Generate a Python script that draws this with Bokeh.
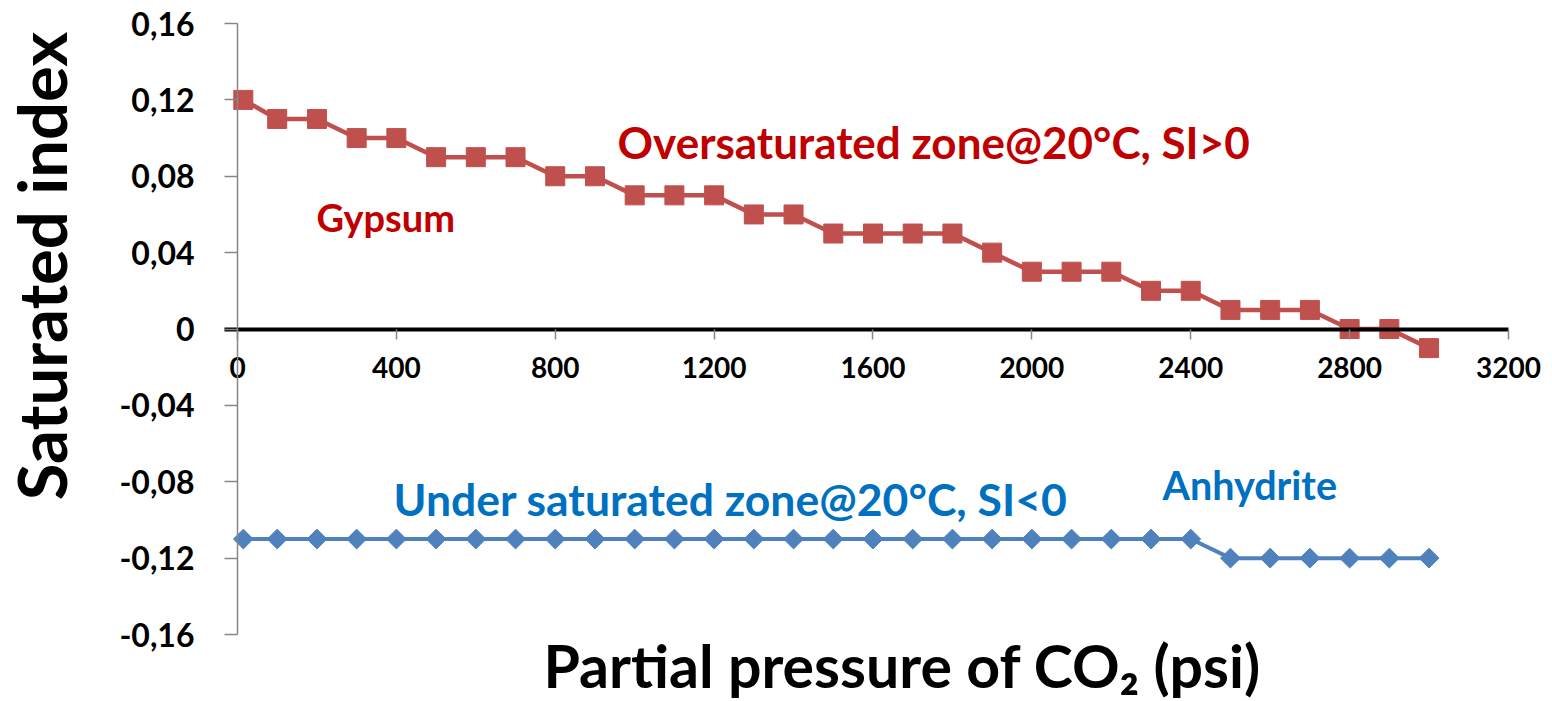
import numpy as np
from bokeh.plotting import figure
from bokeh.models import (ColumnDataSource, FixedTicker, CustomJSTickFormatter, Label, Range1d)
from bokeh.embed import file_html
from bokeh.resources import INLINE

# Partial pressure of CO2 (psi)
pressure = [14.7, 100, 200, 300, 400, 500, 600, 700, 800, 900, 1000, 1100, 1200,
            1300, 1400, 1500, 1600, 1700, 1800, 1900, 2000, 2100, 2200, 2300,
            2400, 2500, 2600, 2700, 2800, 2900, 3000]

# Saturation index of gypsum at 20 °C
si_gypsum = [0.12, 0.11, 0.11, 0.10, 0.10, 0.09, 0.09, 0.09, 0.08, 0.08, 0.07,
             0.07, 0.07, 0.06, 0.06, 0.05, 0.05, 0.05, 0.05, 0.04, 0.03, 0.03,
             0.03, 0.02, 0.02, 0.01, 0.01, 0.01, 0.00, 0.00, -0.01]

# Saturation index of anhydrite at 20 °C
si_anhydrite = [-0.11, -0.11, -0.11, -0.11, -0.11, -0.11, -0.11, -0.11, -0.11,
                -0.11, -0.11, -0.11, -0.11, -0.11, -0.11, -0.11, -0.11, -0.11,
                -0.11, -0.11, -0.11, -0.11, -0.11, -0.11, -0.11, -0.12, -0.12,
                -0.12, -0.12, -0.12, -0.12]

x_ticks = [0, 400, 800, 1200, 1600, 2000, 2400, 2800, 3200]
y_ticks = [-0.16, -0.12, -0.08, -0.04, 0, 0.04, 0.08, 0.12, 0.16]

FONT = "Lato"
RED_SERIES = "#C0504D"
BLUE_SERIES = "#4F81BD"
RED_TEXT = "#C00000"
BLUE_TEXT = "#0070C0"
AXIS_GREY = "#868686"

src = ColumnDataSource(dict(p=pressure, gyp=si_gypsum, anh=si_anhydrite))

# The plotting frame fills the page; the axes cross inside it at (0, 0)
p = figure(width=1552, height=701, output_backend="svg", toolbar_location=None,
           x_range=Range1d(-596.7, 3310.8), y_range=Range1d(-0.19509, 0.17205),
           min_border=0)
p.title.visible = False
p.outline_line_color = None
p.xgrid.visible = False
p.ygrid.visible = False
p.background_fill_color = "white"
p.border_fill_color = "white"

# x axis crossing at SI = 0
xa = p.xaxis[0]
xa.fixed_location = 0
xa.bounds = (-33, 3200)
xa.ticker = FixedTicker(ticks=x_ticks)
xa.axis_line_color = "black"
xa.axis_line_width = 4
xa.major_tick_line_color = AXIS_GREY
xa.major_tick_line_width = 1.5
xa.major_tick_out = 10
xa.major_tick_in = 0
xa.minor_tick_line_color = None
xa.major_label_standoff = 18
xa.major_label_text_font = FONT
xa.major_label_text_font_style = "bold"
xa.major_label_text_font_size = "28px"
xa.major_label_text_color = "black"

# y axis at zero pressure
ya = p.yaxis[0]
ya.fixed_location = 0
ya.bounds = (-0.16, 0.16)
ya.ticker = FixedTicker(ticks=y_ticks)
ya.formatter = CustomJSTickFormatter(
    code="return Math.abs(tick) < 1e-9 ? '0' : tick.toFixed(2).replace('.', ',');")
ya.axis_line_color = AXIS_GREY
ya.axis_line_width = 1.5
ya.major_tick_line_color = AXIS_GREY
ya.major_tick_line_width = 1.5
ya.major_tick_out = 13
ya.major_tick_in = 0
ya.minor_tick_line_color = None
ya.major_label_standoff = 30
ya.major_label_text_font = FONT
ya.major_label_text_font_style = "bold"
ya.major_label_text_font_size = "32px"
ya.major_label_text_color = "black"

# Series
p.line("p", "gyp", source=src, line_color=RED_SERIES, line_width=4.5)
p.scatter("p", "gyp", source=src, marker="square", size=19,
          fill_color=RED_SERIES, line_color=RED_SERIES)
p.line("p", "anh", source=src, line_color=BLUE_SERIES, line_width=4)
p.scatter("p", "anh", source=src, marker="square", angle=np.pi / 4, size=14,
          fill_color=BLUE_SERIES, line_color=BLUE_SERIES)

def note(x, y, text, color, size, angle=0.0, align="left"):
    p.add_layout(Label(x=x, y=y, text=text, text_color=color, text_font=FONT,
                       text_font_style="bold", text_font_size=size,
                       text_baseline="alphabetic", text_align=align, angle=angle))

note(957, 0.098, "Oversaturated zone@20°C, SI>0", RED_TEXT, "44px")
note(199, 0.0587, "Gypsum", RED_TEXT, "38px")
note(393, -0.089, "Under saturated zone@20°C, SI<0", BLUE_TEXT, "44.5px")
note(2329, -0.0817, "Anhydrite", BLUE_TEXT, "39.5px")

# Axis titles
note(1674, -0.1760, "Partial pressure of CO₂ (psi)", "black", "59px", align="center")
note(-494, 0.033, "Saturated index", "black", "67px", angle=np.pi / 2, align="center")

open("out.html", "w").write(file_html(p, INLINE))
